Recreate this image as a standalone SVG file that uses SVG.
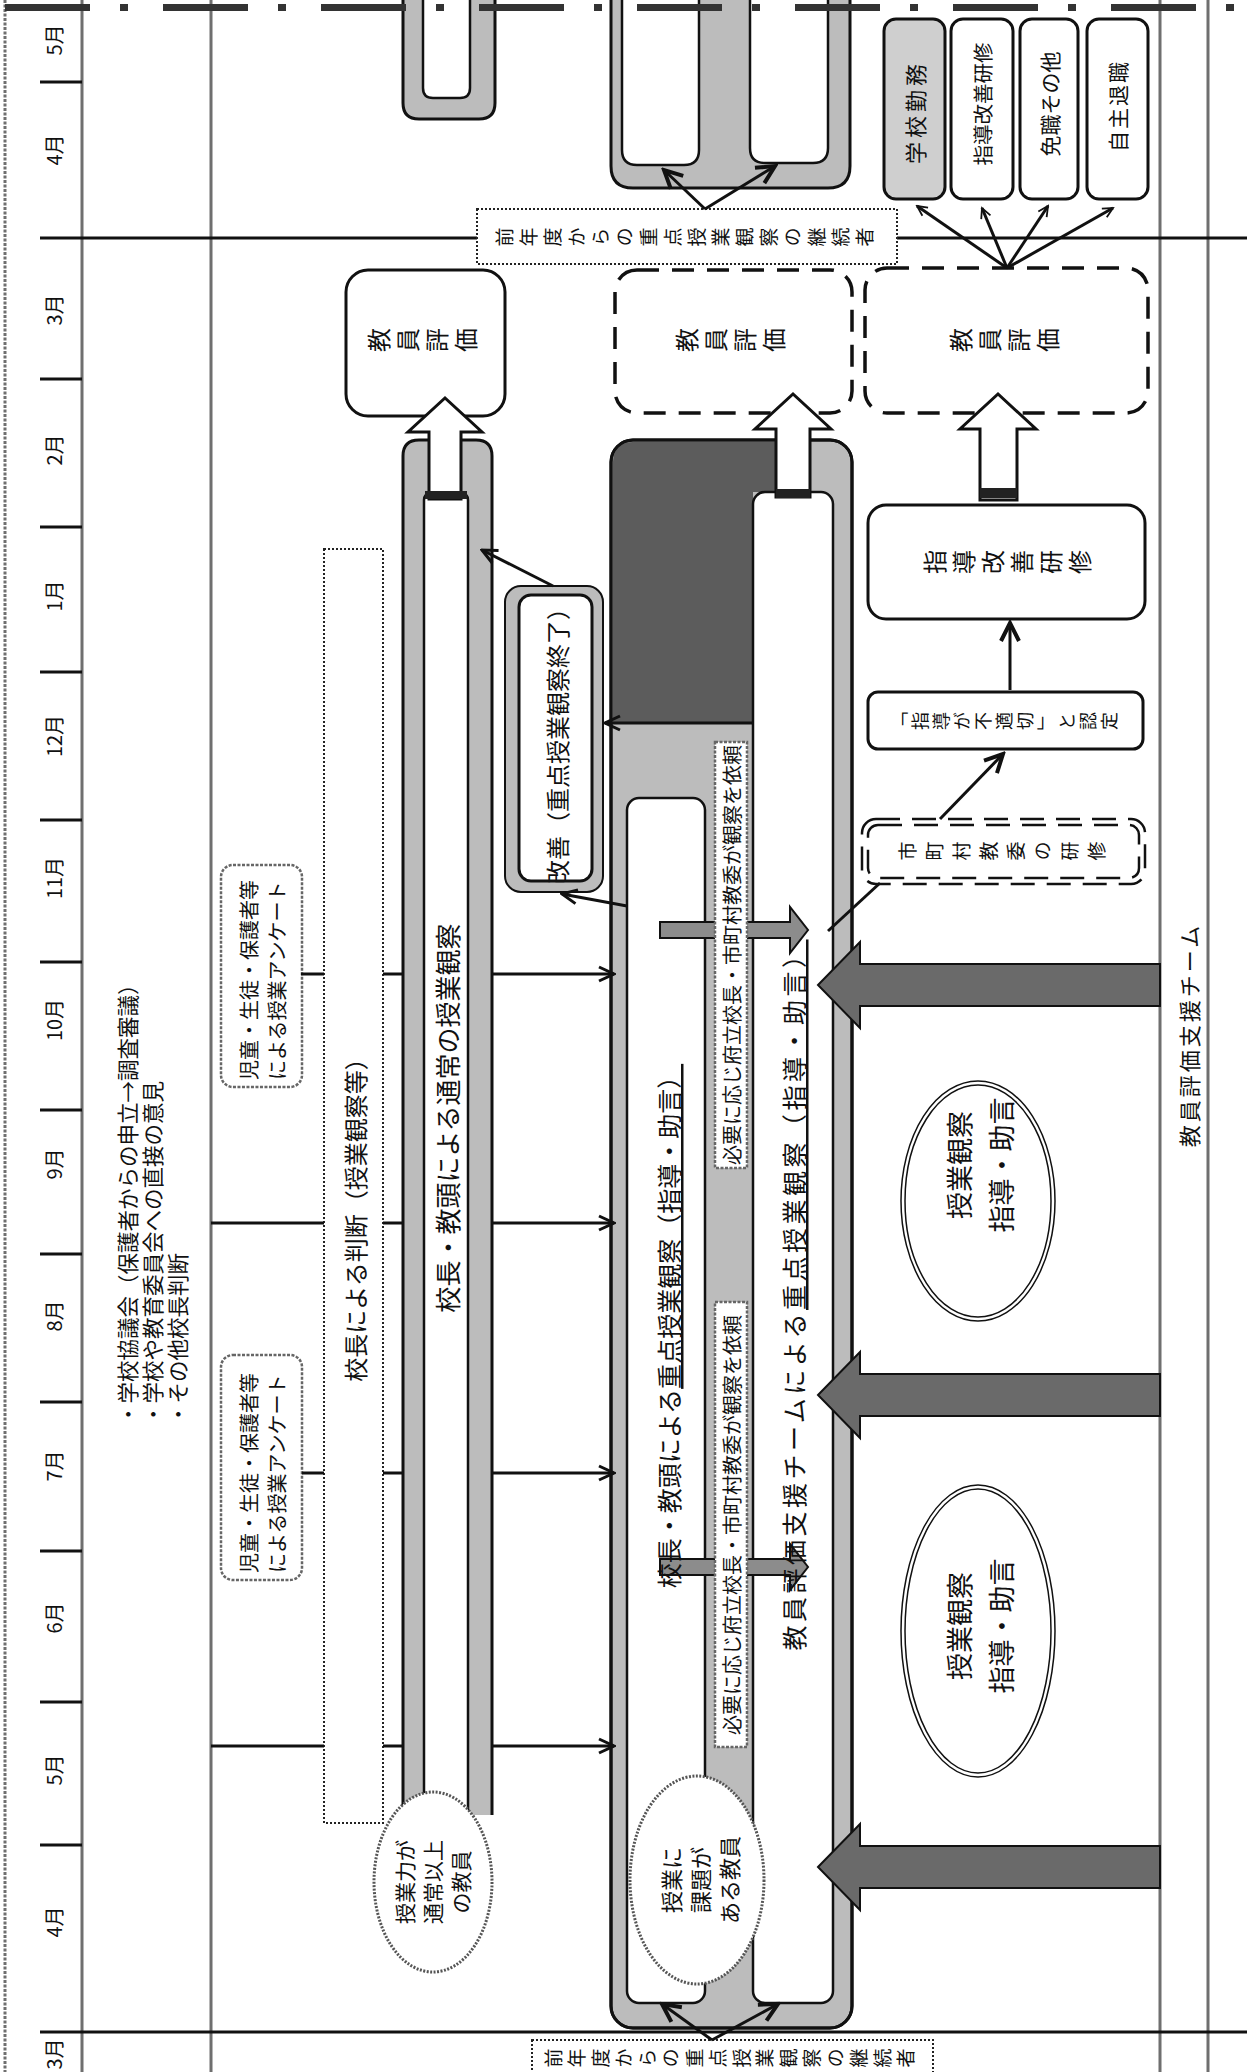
<svg xmlns="http://www.w3.org/2000/svg" width="1247" height="2072" viewBox="0 0 1247 2072">
<defs>
<style>
text { font-family: "Noto Sans CJK JP", "Noto Sans CJK SC", sans-serif; fill: #111; }
.c { text-anchor: middle; dominant-baseline: central; }
.s { text-anchor: start; dominant-baseline: central; }
.v { writing-mode: vertical-rl; text-anchor: middle; }
.ln { stroke: #111; fill: none; stroke-width: 3; }
.grid { stroke: #6f6f6f; stroke-width: 3; fill: none; }
.tube { fill: #bcbcbc; stroke: #111; stroke-width: 3; }
.slot { fill: #fff; stroke: #111; stroke-width: 2.5; }
.dark { fill: #5c5c5c; stroke: none; }
.team { fill: #6a6a6a; stroke: #111; stroke-width: 2; }
.garrow { fill: #8c8c8c; stroke: #111; stroke-width: 2; }
.hollow { fill: #fff; stroke: #111; stroke-width: 3; }
.dot { fill: #fff; stroke: #222; stroke-width: 2; stroke-dasharray: 2 2; }
.gdot { fill: #fff; stroke: #666; stroke-width: 2.5; stroke-dasharray: 3 1.5; }
.dash { fill: #fff; stroke: #111; stroke-width: 3.5; stroke-dasharray: 22 13; }
.box { fill: #fff; stroke: #111; stroke-width: 3; }
.band { fill: #222; }
</style>
<marker id="a1" viewBox="0 0 20 20" refX="18" refY="10" markerWidth="20" markerHeight="20" markerUnits="userSpaceOnUse" orient="auto"><path d="M3,3 L18,10 L3,17" fill="none" stroke="#111" stroke-width="3"/></marker>
<marker id="a2" viewBox="0 0 14 14" refX="12" refY="7" markerWidth="14" markerHeight="14" markerUnits="userSpaceOnUse" orient="auto"><path d="M2,2 L12,7 L2,12" fill="none" stroke="#111" stroke-width="1.8"/></marker>
<marker id="a3" viewBox="0 0 24 24" refX="21" refY="12" markerWidth="24" markerHeight="24" markerUnits="userSpaceOnUse" orient="auto"><path d="M3,3 L21,12 L3,21" fill="none" stroke="#111" stroke-width="4"/></marker>
</defs>
<rect width="1247" height="2072" fill="#fff"/>

<!-- grid / timeline -->
<g id="timeline">
<line class="grid" x1="5" y1="0" x2="5" y2="2072" stroke-dasharray="3 1.5"/>
<line class="grid" x1="82" y1="0" x2="82" y2="2072"/>
<line class="grid" x1="211" y1="0" x2="211" y2="2072"/>
<line class="grid" x1="1160" y1="0" x2="1160" y2="2072"/>
<line class="grid" x1="1208" y1="0" x2="1208" y2="2072"/>
<path class="ln" stroke-width="2" d="M40,82H82 M40,379H82 M40,527H82 M40,672H82 M40,820H82 M40,962H82 M40,1110H82 M40,1254H82 M40,1402H82 M40,1551H82 M40,1702H82 M40,1845H82"/>
<path class="ln" stroke-width="2.5" d="M40,238H477 M897,238H1247 M40,2032H1247"/>
<g font-size="20">
<text class="c" x="53" y="40" transform="rotate(-90 53 40)">5月</text>
<text class="c" x="53" y="150" transform="rotate(-90 53 150)">4月</text>
<text class="c" x="53" y="310" transform="rotate(-90 53 310)">3月</text>
<text class="c" x="53" y="450" transform="rotate(-90 53 450)">2月</text>
<text class="c" x="53" y="596" transform="rotate(-90 53 596)">1月</text>
<text class="c" x="53" y="736" transform="rotate(-90 53 736)">12月</text>
<text class="c" x="53" y="878" transform="rotate(-90 53 878)">11月</text>
<text class="c" x="53" y="1020" transform="rotate(-90 53 1020)">10月</text>
<text class="c" x="53" y="1164" transform="rotate(-90 53 1164)">9月</text>
<text class="c" x="53" y="1316" transform="rotate(-90 53 1316)">8月</text>
<text class="c" x="53" y="1466" transform="rotate(-90 53 1466)">7月</text>
<text class="c" x="53" y="1618" transform="rotate(-90 53 1618)">6月</text>
<text class="c" x="53" y="1770" transform="rotate(-90 53 1770)">5月</text>
<text class="c" x="53" y="1922" transform="rotate(-90 53 1922)">4月</text>
<text class="c" x="53" y="2054" transform="rotate(-90 53 2054)">3月</text>
</g>
<g font-size="21.5">
<text class="s" x="126" y="1425" transform="rotate(-90 126 1425)">・学校協議会（保護者からの申立→調査審議）</text>
<text class="s" x="151" y="1425" transform="rotate(-90 151 1425)">・学校や教育委員会への直接の意見</text>
<text class="s" x="176" y="1425" transform="rotate(-90 176 1425)">・その他校長判断</text>
</g>
<text class="c" x="1188" y="1035" font-size="22" letter-spacing="3" transform="rotate(-90 1188 1035)">教員評価支援チーム</text>
</g>

<!-- previous-year tubes at top -->
<g id="tube-top-1">
<path class="tube" d="M403,0 V103 Q403,119 419,119 H479 Q495,119 495,103 V0"/>
<path class="slot" d="M423,0 V88 Q423,98 433,98 H460 Q470,98 470,88 V0"/>
</g>
<g id="tube-top-2">
<path class="tube" d="M611,0 V166 Q611,188 633,188 H828 Q850,188 850,166 V0"/>
<path class="slot" d="M622,0 V150 Q622,165 637,165 H684 Q699,165 699,150 V0"/>
<path class="slot" d="M750,0 V148 Q750,163 765,163 H813 Q828,163 828,148 V0"/>
</g>

<!-- questionnaire boxes -->
<g id="enquete-1">
<rect class="gdot" x="221" y="865" width="81" height="222" rx="12"/>
<g font-size="20">
<text class="s" x="248" y="1080" transform="rotate(-90 248 1080)">児童・生徒・保護者等</text>
<text class="s" x="276" y="1080" transform="rotate(-90 276 1080)">による授業アンケート</text>
</g>
</g>
<g id="enquete-2">
<rect class="gdot" x="221" y="1355" width="81" height="225" rx="12"/>
<g font-size="20">
<text class="s" x="248" y="1573" transform="rotate(-90 248 1573)">児童・生徒・保護者等</text>
<text class="s" x="276" y="1573" transform="rotate(-90 276 1573)">による授業アンケート</text>
</g>
</g>

<!-- principal judgement -->
<g id="judgement">
<rect class="dot" x="324" y="549" width="59" height="1274" stroke-width="1.8"/>
<text class="c" x="354" y="1214" font-size="24" transform="rotate(-90 354 1214)">校長による判断（授業観察等）</text>
</g>

<!-- tube 1 : normal observation -->
<g id="tube-normal">
<path class="tube" d="M403,1815 V456 Q403,440 419,440 H476 Q492,440 492,456 V1815"/>
<path class="slot" d="M424,1815 V500 Q424,494 430,494 H462 Q468,494 468,500 V1815"/>
<text class="c" x="446" y="1118" font-size="26" transform="rotate(-90 446 1118)">校長・教頭による通常の授業観察</text>
</g>
<g id="teacher-good">
<ellipse cx="433" cy="1882" rx="59" ry="90" fill="#fff" stroke="#555" stroke-width="3" stroke-dasharray="2 1.5"/>
<g font-size="21">
<text class="c" x="404" y="1882" transform="rotate(-90 404 1882)">授業力が</text>
<text class="c" x="432" y="1882" transform="rotate(-90 432 1882)">通常以上</text>
<text class="c" x="460" y="1882" transform="rotate(-90 460 1882)">の教員</text>
</g>
</g>

<!-- tube 2 : focused observation -->
<g id="tube-focus">
<rect class="tube" x="611" y="440" width="241" height="1588" rx="22"/>
<path class="dark" d="M613,462 Q613,442 633,442 H776 V492 H753 V722 H613 Z"/>
<rect x="611" y="440" width="241" height="1588" rx="22" fill="none" stroke="#111" stroke-width="3"/>
<rect class="slot" x="627" y="798" width="78" height="1205" rx="12"/>
<rect class="slot" x="753" y="492" width="80" height="1511" rx="12"/>
<polygon class="garrow" points="660,922 790,922 790,907 808,930 790,953 790,938 660,938"/>
<polygon class="garrow" points="660,1559 790,1559 790,1544 808,1567 790,1590 790,1575 660,1575"/>
<rect class="gdot" x="715" y="742" width="32" height="426"/>
<rect class="gdot" x="715" y="1302" width="32" height="445"/>
<g font-size="20">
<text class="c" x="731" y="955" transform="rotate(-90 731 955)">必要に応じ府立校長・市町村教委が観察を依頼</text>
<text class="c" x="731" y="1525" transform="rotate(-90 731 1525)">必要に応じ府立校長・市町村教委が観察を依頼</text>
</g>
<text class="c" x="668" y="1326" font-size="25" transform="rotate(-90 668 1326)">校長・教頭による<tspan text-decoration="underline">重点授業観察（指導・助言）</tspan></text>
<text class="c" x="793" y="1295" font-size="25" letter-spacing="3.5" transform="rotate(-90 793 1295)">教員評価支援チームによる<tspan text-decoration="underline">重点授業観察（指導・助言）</tspan></text>
</g>
<g id="teacher-issue">
<ellipse cx="697" cy="1880" rx="67" ry="104" fill="#fff" stroke="#555" stroke-width="3" stroke-dasharray="2 1.5"/>
<g font-size="22">
<text class="c" x="670" y="1880" transform="rotate(-90 670 1880)">授業に</text>
<text class="c" x="699" y="1880" transform="rotate(-90 699 1880)">課題が</text>
<text class="c" x="728" y="1880" transform="rotate(-90 728 1880)">ある教員</text>
</g>
</g>

<!-- improvement -->
<g id="improved">
<rect x="505" y="586" width="98" height="306" rx="16" fill="#bcbcbc" stroke="#111" stroke-width="2"/>
<rect x="519" y="595" width="73" height="286" rx="12" fill="#fff" stroke="#111" stroke-width="3"/>
<text class="c" x="556" y="740" font-size="24" transform="rotate(-90 556 740)">改善（重点授業観察終了）</text>
</g>

<!-- evaluation boxes -->
<g id="eval-a">
<rect class="box" x="346" y="270" width="159" height="146" rx="22"/>
<text class="v" x="425" y="340" font-size="24" letter-spacing="5" transform="rotate(-90 425 340)">教員評価</text>
</g>
<g id="eval-b">
<rect class="dash" x="615" y="270" width="237" height="143" rx="22"/>
<text class="v" x="733" y="340" font-size="24" letter-spacing="5" transform="rotate(-90 733 340)">教員評価</text>
</g>
<g id="eval-c">
<rect class="dash" x="865" y="268" width="283" height="145" rx="22"/>
<text class="v" x="1007" y="340" font-size="24" letter-spacing="5" transform="rotate(-90 1007 340)">教員評価</text>
</g>
<g id="arrow-a">
<polygon class="hollow" points="429,499 429,432 408,432 445,398 482,432 461,432 461,499"/>
<rect class="band" x="425" y="491" width="42" height="8"/>
</g>
<g id="arrow-b">
<polygon class="hollow" points="776,497 776,429 755,429 793,394 831,429 810,429 810,497"/>
<rect class="band" x="776" y="489" width="34" height="9"/>
</g>

<!-- guidance improvement training chain -->
<g id="training">
<rect class="box" x="868" y="505" width="277" height="114" rx="18"/>
<text class="v" x="1010" y="562" font-size="24" letter-spacing="5" transform="rotate(-90 1010 562)">指導改善研修</text>
</g>
<g id="arrow-c">
<polygon class="hollow" points="980,500 980,429 960,429 998,394 1036,429 1017,429 1017,500"/>
<rect class="band" x="980" y="488" width="37" height="10"/>
</g>
<g id="judged">
<rect class="box" x="868" y="692" width="275" height="57" rx="10"/>
<text class="v" x="1006" y="721" font-size="18" letter-spacing="3" transform="rotate(-90 1006 721)">「指導が不適切」と認定</text>
</g>
<g id="city-training">
<rect x="862" y="819" width="283" height="65" rx="14" fill="#fff" stroke="#111" stroke-width="2.5" stroke-dasharray="24 12"/>
<rect x="868" y="825" width="271" height="53" rx="10" fill="none" stroke="#111" stroke-width="2.5" stroke-dasharray="24 12"/>
<text class="v" x="1006" y="851" font-size="19" letter-spacing="8" transform="rotate(-90 1006 851)">市町村教委の研修</text>
</g>

<!-- outcome boxes -->
<g id="out-1">
<rect x="884" y="19" width="61" height="180" rx="12" fill="#cfcfcf" stroke="#111" stroke-width="3"/>
<text class="c" x="914" y="112" font-size="22" letter-spacing="4" transform="rotate(-90 914 112)">学校勤務</text>
</g>
<g id="out-2">
<rect class="box" x="951" y="19" width="62" height="180" rx="12"/>
<text class="c" x="982" y="104" font-size="20.5" transform="rotate(-90 982 104)">指導改善研修</text>
</g>
<g id="out-3">
<rect class="box" x="1020" y="19" width="58" height="180" rx="12"/>
<text class="c" x="1049" y="104" font-size="21" transform="rotate(-90 1049 104)">免職その他</text>
</g>
<g id="out-4">
<rect class="box" x="1087" y="19" width="61" height="180" rx="12"/>
<text class="c" x="1117" y="106" font-size="21" letter-spacing="2" transform="rotate(-90 1117 106)">自主退職</text>
</g>

<!-- continuing teachers -->
<g id="continue-top">
<rect class="dot" x="477" y="209" width="420" height="55"/>
<text class="v" x="687" y="237" font-size="19" letter-spacing="5" transform="rotate(-90 687 237)">前年度からの重点授業観察の継続者</text>
</g>
<g id="continue-bottom">
<rect class="dot" x="532" y="2040" width="401" height="40"/>
<text class="v" x="732" y="2058" font-size="19" letter-spacing="4.5" transform="rotate(-90 732 2058)">前年度からの重点授業観察の継続者</text>
</g>

<!-- team lane -->
<g id="team-obs-1">
<ellipse cx="978" cy="1201" rx="77" ry="120" fill="#fff" stroke="#111" stroke-width="1.5"/>
<ellipse cx="978" cy="1201" rx="73" ry="116" fill="none" stroke="#111" stroke-width="1.5"/>
<g font-size="27">
<text class="c" x="958" y="1165" transform="rotate(-90 958 1165)">授業観察</text>
<text class="c" x="1000" y="1165" transform="rotate(-90 1000 1165)">指導・助言</text>
</g>
</g>
<g id="team-obs-2">
<ellipse cx="978" cy="1631" rx="77" ry="146" fill="#fff" stroke="#111" stroke-width="1.5"/>
<ellipse cx="978" cy="1631" rx="73" ry="142" fill="none" stroke="#111" stroke-width="1.5"/>
<g font-size="27">
<text class="c" x="958" y="1626" transform="rotate(-90 958 1626)">授業観察</text>
<text class="c" x="1000" y="1626" transform="rotate(-90 1000 1626)">指導・助言</text>
</g>
</g>

<!-- connectors -->
<g id="connectors">
<path class="ln" d="M301,974H324 M383,974H403 M211,1223H324 M383,1223H403 M302,1473H324 M383,1473H403 M211,1746H324 M383,1746H403"/>
<path class="ln" d="M492,974H614" marker-end="url(#a1)"/>
<path class="ln" d="M492,1223H614" marker-end="url(#a1)"/>
<path class="ln" d="M492,1473H614" marker-end="url(#a1)"/>
<path class="ln" d="M492,1746H614" marker-end="url(#a1)"/>
<path class="ln" d="M553,586L482,550" marker-end="url(#a1)"/>
<path class="ln" d="M627,906L562,894" marker-end="url(#a1)"/>
<path class="ln" d="M753,723H605" marker-end="url(#a1)"/>
<path class="ln" stroke-width="3.5" d="M1010,690V623" marker-end="url(#a3)"/>
<path class="ln" stroke-width="3.5" d="M940,819L1003,754" marker-end="url(#a3)"/>
<path class="ln" d="M880,883L828,931"/>
<path class="ln" stroke-width="1.8" d="M1007,268L917,206" marker-end="url(#a2)"/>
<path class="ln" stroke-width="1.8" d="M1007,268L982,208" marker-end="url(#a2)"/>
<path class="ln" stroke-width="1.8" d="M1007,268L1048,206" marker-end="url(#a2)"/>
<path class="ln" stroke-width="1.8" d="M1007,268L1113,208" marker-end="url(#a2)"/>
<path class="ln" stroke-width="3.5" d="M705,209L664,170" marker-end="url(#a3)"/>
<path class="ln" stroke-width="3.5" d="M705,209L775,166" marker-end="url(#a3)"/>
<path class="ln" stroke-width="3.5" d="M712,2040L662,2004" marker-end="url(#a3)"/>
<path class="ln" stroke-width="3.5" d="M712,2040L778,2004" marker-end="url(#a3)"/>
<polygon class="team" points="818,985 860,942 860,964 1160,964 1160,1006 860,1006 860,1028"/>
<polygon class="team" points="818,1395 860,1352 860,1374 1160,1374 1160,1416 860,1416 860,1438"/>
<polygon class="team" points="818,1867 860,1824 860,1846 1160,1846 1160,1888 860,1888 860,1910"/>
</g>

<line x1="5" y1="7.5" x2="1247" y2="7.5" stroke="#333" stroke-width="7" stroke-dasharray="85 30 8 35"/>
</svg>
